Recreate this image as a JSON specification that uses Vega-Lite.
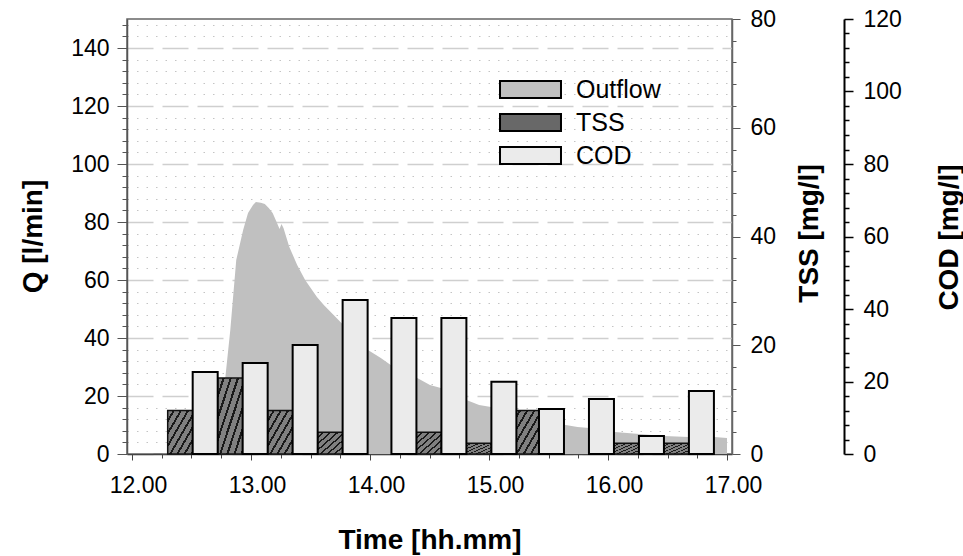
{
  "$schema": "https://vega.github.io/schema/vega-lite/v6.json",
  "width": 605,
  "height": 435,
  "autosize": {"type": "none"},
  "padding": {"left": 127, "top": 19, "right": 231, "bottom": 102},
  "background": "white",
  "config": {
    "view": {"stroke": "#666666", "strokeWidth": 1.5},
    "font": "Liberation Sans",
    "axis": {
      "labelFont": "Liberation Sans",
      "labelFontSize": 23,
      "labelColor": "black",
      "titleFont": "Liberation Sans",
      "titleFontSize": 28,
      "titleFontWeight": "bold",
      "titleColor": "black",
      "labelOverlap": false,
      "labelFlush": false
    }
  },
  "datasets": {
    "flow": [
      {"t": 12.72, "Q": 0},
      {"t": 12.785, "Q": 26.6},
      {"t": 12.826, "Q": 42.8},
      {"t": 12.876, "Q": 66.9},
      {"t": 12.934, "Q": 77.2},
      {"t": 12.975, "Q": 83.1},
      {"t": 13.017, "Q": 85.9},
      {"t": 13.041, "Q": 86.9},
      {"t": 13.083, "Q": 86.6},
      {"t": 13.116, "Q": 86.2},
      {"t": 13.149, "Q": 84.8},
      {"t": 13.182, "Q": 83.1},
      {"t": 13.215, "Q": 80.0},
      {"t": 13.24, "Q": 77.6},
      {"t": 13.256, "Q": 79.3},
      {"t": 13.273, "Q": 77.9},
      {"t": 13.322, "Q": 71.4},
      {"t": 13.388, "Q": 65.2},
      {"t": 13.455, "Q": 60.0},
      {"t": 13.554, "Q": 54.1},
      {"t": 13.612, "Q": 51.4},
      {"t": 13.678, "Q": 48.6},
      {"t": 13.76, "Q": 45.2},
      {"t": 13.843, "Q": 41.7},
      {"t": 13.926, "Q": 38.3},
      {"t": 13.983, "Q": 35.9},
      {"t": 14.091, "Q": 33.1},
      {"t": 14.174, "Q": 30.7},
      {"t": 14.256, "Q": 29.0},
      {"t": 14.397, "Q": 26.2},
      {"t": 14.504, "Q": 23.8},
      {"t": 14.595, "Q": 22.8},
      {"t": 14.711, "Q": 20.7},
      {"t": 14.81, "Q": 18.6},
      {"t": 14.917, "Q": 16.9},
      {"t": 15.017, "Q": 16.2},
      {"t": 15.124, "Q": 14.5},
      {"t": 15.231, "Q": 12.8},
      {"t": 15.421, "Q": 11.4},
      {"t": 15.645, "Q": 10.0},
      {"t": 15.744, "Q": 9.3},
      {"t": 15.843, "Q": 9.0},
      {"t": 15.95, "Q": 8.3},
      {"t": 16.058, "Q": 7.6},
      {"t": 16.264, "Q": 6.9},
      {"t": 16.471, "Q": 6.2},
      {"t": 16.678, "Q": 5.9},
      {"t": 16.893, "Q": 5.9},
      {"t": 17.0, "Q": 5.5}
    ],
    "samples": [
      {"t": 12.51, "TSS": 8, "COD": 22.6},
      {"t": 12.93, "TSS": 14, "COD": 25.1},
      {"t": 13.35, "TSS": 8, "COD": 30.1},
      {"t": 13.77, "TSS": 4, "COD": 42.5},
      {"t": 14.18, "TSS": null, "COD": 37.5},
      {"t": 14.6, "TSS": 4, "COD": 37.5},
      {"t": 15.02, "TSS": 2, "COD": 19.9},
      {"t": 15.42, "TSS": 8, "COD": 12.4},
      {"t": 15.84, "TSS": null, "COD": 15.2},
      {"t": 16.26, "TSS": 2, "COD": 5.0},
      {"t": 16.68, "TSS": 2, "COD": 17.4}
    ]
  },
  "encoding": {
    "x": {
      "field": "t",
      "type": "quantitative",
      "scale": {"domain": [12, 17], "nice": false, "zero": false},
      "axis": {
        "title": "Time [hh.mm]",
        "values": [12, 12.25, 12.5, 12.75, 13, 13.25, 13.5, 13.75, 14, 14.25, 14.5, 14.75, 15, 15.25, 15.5, 15.75, 16, 16.25, 16.5, 16.75, 17],
        "labelExpr": "datum.value % 1 === 0 ? format(datum.value, '.2f') : ''",
        "tickSize": {"condition": {"test": "datum.value % 1 === 0", "value": 6}, "value": 4},
        "tickColor": "#444444",
        "domainColor": "#444444",
        "domainWidth": 1.5,
        "labelPadding": 14,
        "labelOffset": 6,
        "grid": false,
        "titleY": 94,
        "titleBaseline": "alphabetic"
      }
    }
  },
  "layer": [
    {
      "data": {"name": "flow"},
      "mark": {"type": "area", "opacity": 1, "interpolate": "linear"},
      "encoding": {
        "y": {
          "field": "Q",
          "type": "quantitative",
          "scale": {"domain": [0, 150], "nice": false},
          "axis": {
            "orient": "left",
            "title": "Q [l/min]",
            "values": [0, 4, 8, 12, 16, 20, 24, 28, 32, 36, 40, 44, 48, 52, 56, 60, 64, 68, 72, 76, 80, 84, 88, 92, 96, 100, 104, 108, 112, 116, 120, 124, 128, 132, 136, 140, 144, 148],
            "labelExpr": "datum.value % 20 === 0 ? datum.label : ''",
            "tickSize": {"condition": {"test": "datum.value % 20 === 0", "value": 10}, "value": 5},
            "tickColor": "#555555",
            "domainColor": "#555555",
            "domainWidth": 1.5,
            "labelPadding": 8,
            "grid": true,
            "gridDash": {"condition": {"test": "datum.value % 20 === 0", "value": [26, 9]}, "value": [1.5, 8]},
            "gridColor": {"condition": {"test": "datum.value % 20 === 0", "value": "#cfcfcf"}, "value": "#c4c4c4"},
            "gridWidth": {"condition": {"test": "datum.value % 20 === 0", "value": 1.5}, "value": 1},
            "titleAngle": -90,
            "titleX": -86,
            "titleY": 217,
            "titleAlign": "center",
            "titleBaseline": "alphabetic"
          }
        },
        "color": {
          "datum": "Outflow",
          "type": "nominal",
          "scale": {"domain": ["Outflow", "TSS", "COD"], "range": ["#c0c0c0", "#686868", "#ebebeb"]},
          "legend": {
            "title": null,
            "orient": "none",
            "legendX": 387,
            "legendY": 54,
            "symbolType": "M-2,-0.56H2V0.56H-2Z",
            "symbolSize": 930,
            "symbolStrokeColor": "black",
            "symbolStrokeWidth": 2,
            "symbolOpacity": 1,
            "labelFont": "Liberation Sans",
            "labelFontSize": 25,
            "labelColor": "black",
            "labelOffset": 29,
            "rowPadding": 3
          }
        }
      }
    },
    {
      "data": {"name": "samples"},
      "mark": {
        "type": "bar", "width": 25, "xOffset": -12.5, "stroke": "#111111", "strokeWidth": 1.5, "opacity": 1,
        "fill": {
          "gradient": "linear", "x1": 0, "y1": 0, "x2": 1, "y2": 1,
          "stops": [
            {"offset": 0, "color": "#808080"}, {"offset": 0.1, "color": "#808080"},
            {"offset": 0.1, "color": "#1a1a1a"}, {"offset": 0.1429, "color": "#1a1a1a"},
            {"offset": 0.1429, "color": "#808080"}, {"offset": 0.2429, "color": "#808080"},
            {"offset": 0.2429, "color": "#1a1a1a"}, {"offset": 0.2857, "color": "#1a1a1a"},
            {"offset": 0.2857, "color": "#808080"}, {"offset": 0.3857, "color": "#808080"},
            {"offset": 0.3857, "color": "#1a1a1a"}, {"offset": 0.4286, "color": "#1a1a1a"},
            {"offset": 0.4286, "color": "#808080"}, {"offset": 0.5286, "color": "#808080"},
            {"offset": 0.5286, "color": "#1a1a1a"}, {"offset": 0.5714, "color": "#1a1a1a"},
            {"offset": 0.5714, "color": "#808080"}, {"offset": 0.6714, "color": "#808080"},
            {"offset": 0.6714, "color": "#1a1a1a"}, {"offset": 0.7143, "color": "#1a1a1a"},
            {"offset": 0.7143, "color": "#808080"}, {"offset": 0.8143, "color": "#808080"},
            {"offset": 0.8143, "color": "#1a1a1a"}, {"offset": 0.8571, "color": "#1a1a1a"},
            {"offset": 0.8571, "color": "#808080"}, {"offset": 0.9571, "color": "#808080"},
            {"offset": 0.9571, "color": "#1a1a1a"}, {"offset": 1, "color": "#1a1a1a"}
          ]
        }
      },
      "encoding": {
        "y": {
          "field": "TSS",
          "type": "quantitative",
          "scale": {"domain": [0, 80], "nice": false},
          "axis": {
            "orient": "right",
            "title": "TSS [mg/l]",
            "values": [0, 4, 8, 12, 16, 20, 24, 28, 32, 36, 40, 44, 48, 52, 56, 60, 64, 68, 72, 76, 80],
            "labelExpr": "datum.value % 20 === 0 ? datum.label : ''",
            "tickSize": {"condition": {"test": "datum.value % 20 === 0", "value": 8}, "value": 4},
            "tickColor": "#555555",
            "domainColor": "#666666",
            "domainWidth": 1.5,
            "labelPadding": 10,
            "grid": false,
            "titleAngle": -90,
            "titleX": 85,
            "titleY": 214,
            "titleAlign": "center",
            "titleBaseline": "alphabetic"
          }
        }
      }
    },
    {
      "data": {"name": "samples"},
      "mark": {"type": "bar", "width": 25, "xOffset": 12.5, "stroke": "black", "strokeWidth": 2, "opacity": 1, "fill": "#ebebeb"},
      "encoding": {
        "y": {
          "field": "COD",
          "type": "quantitative",
          "scale": {"domain": [0, 120], "nice": false},
          "axis": {
            "orient": "right",
            "offset": 112,
            "title": "COD [mg/l]",
            "values": [0, 4, 8, 12, 16, 20, 24, 28, 32, 36, 40, 44, 48, 52, 56, 60, 64, 68, 72, 76, 80, 84, 88, 92, 96, 100, 104, 108, 112, 116, 120],
            "labelExpr": "datum.value % 20 === 0 ? datum.label : ''",
            "tickSize": {"condition": {"test": "datum.value % 20 === 0", "value": 9}, "value": 5},
            "tickColor": "black",
            "tickWidth": 1.5,
            "domainColor": "black",
            "domainWidth": 2,
            "labelPadding": 10,
            "grid": false,
            "titleAngle": -90,
            "titleX": 113,
            "titleY": 218,
            "titleAlign": "center",
            "titleBaseline": "alphabetic"
          }
        }
      }
    }
  ],
  "resolve": {"scale": {"y": "independent"}, "axis": {"y": "independent"}}
}
